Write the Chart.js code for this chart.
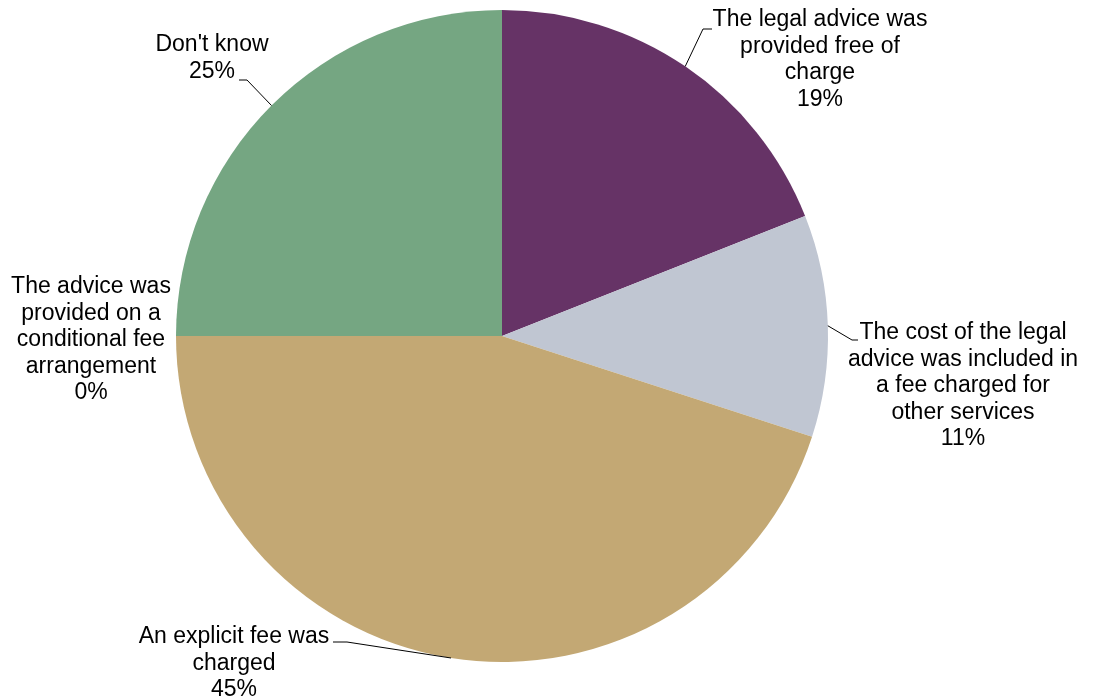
<!DOCTYPE html>
<html>
<head>
<meta charset="utf-8">
<script src="https://cdn.jsdelivr.net/npm/chart.js@4.4.0/dist/chart.umd.min.js"></script>
<style>
    body { margin: 0; background: #ffffff; }
    #wrap { width: 1095px; height: 700px; }
</style>
</head>
<body>
<div id="wrap"><canvas id="myChart" width="1095" height="700"></canvas></div>
<script>
// categories, wrapped the way the reference wraps them
const categories = [
    ["The legal advice was", "provided free of", "charge"],
    ["The cost of the legal", "advice was included in", "a fee charged for", "other services"],
    ["An explicit fee was", "charged"],
    ["The advice was", "provided on a", "conditional fee", "arrangement"],
    ["Don't know"]
]
const shares = [19, 11, 45, 0, 25]
const colours = ['#663366', '#c0c6d2', '#c3a874', '#c3a874', '#75a682']

// where each label sits, relative to the pie centre (text centre of first line, elbow, line end)
const labelSpots = [
    { tx: 318, ty: -316, elbow: [201, -307], end: [210, -307] },
    { tx: 461, ty: -3, elbow: [350, 4], end: [356, 4] },
    { tx: -268, ty: 301, elbow: [-155, 306], end: [-169, 306] },
    { tx: -411, ty: -49, elbow: null, end: null },
    { tx: -290, ty: -291, elbow: [-255, -256], end: [-263, -256] }
]

const labelPlugin = {
    id: 'pieLabels',
    afterDatasetsDraw(chart) {
        const ctx = chart.ctx
        const arcs = chart.getDatasetMeta(0).data
        ctx.save()
        ctx.font = '23px "Liberation Sans", Arial, sans-serif'
        ctx.fillStyle = '#000000'
        ctx.strokeStyle = '#000000'
        ctx.lineWidth = 1
        ctx.textAlign = 'center'
        ctx.textBaseline = 'middle'
        arcs.forEach(function (arc, i) {
            const cx = arc.x
            const cy = arc.y
            const spot = labelSpots[i]
            if (spot.elbow) {
                const mid = (arc.startAngle + arc.endAngle) / 2
                const r = arc.outerRadius
                ctx.beginPath()
                ctx.moveTo(cx + r * Math.cos(mid), cy + r * Math.sin(mid))
                ctx.lineTo(cx + spot.elbow[0], cy + spot.elbow[1])
                ctx.lineTo(cx + spot.end[0], cy + spot.end[1])
                ctx.stroke()
            }
            const lines = categories[i].concat([shares[i] + '%'])
            lines.forEach(function (line, j) {
                ctx.fillText(line, cx + spot.tx, cy + spot.ty + j * 26.5)
            })
        })
        ctx.restore()
    }
}

const data = {
    labels: categories.map(function (c) { return c.join(' ') }),
    datasets: [{
        data: shares,
        backgroundColor: colours,
        borderWidth: 0,
        hoverOffset: 0
    }]
}

const config = {
    type: 'pie',
    data: data,
    options: {
        responsive: false,
        animation: false,
        layout: {
            padding: { left: 176, right: 267, top: 10, bottom: 38 }
        },
        plugins: {
            legend: { display: false },
            tooltip: { enabled: false }
        }
    },
    plugins: [labelPlugin]
}

const myChart = new Chart(
    document.getElementById("myChart"),
    config
)
</script>
</body>
</html>
